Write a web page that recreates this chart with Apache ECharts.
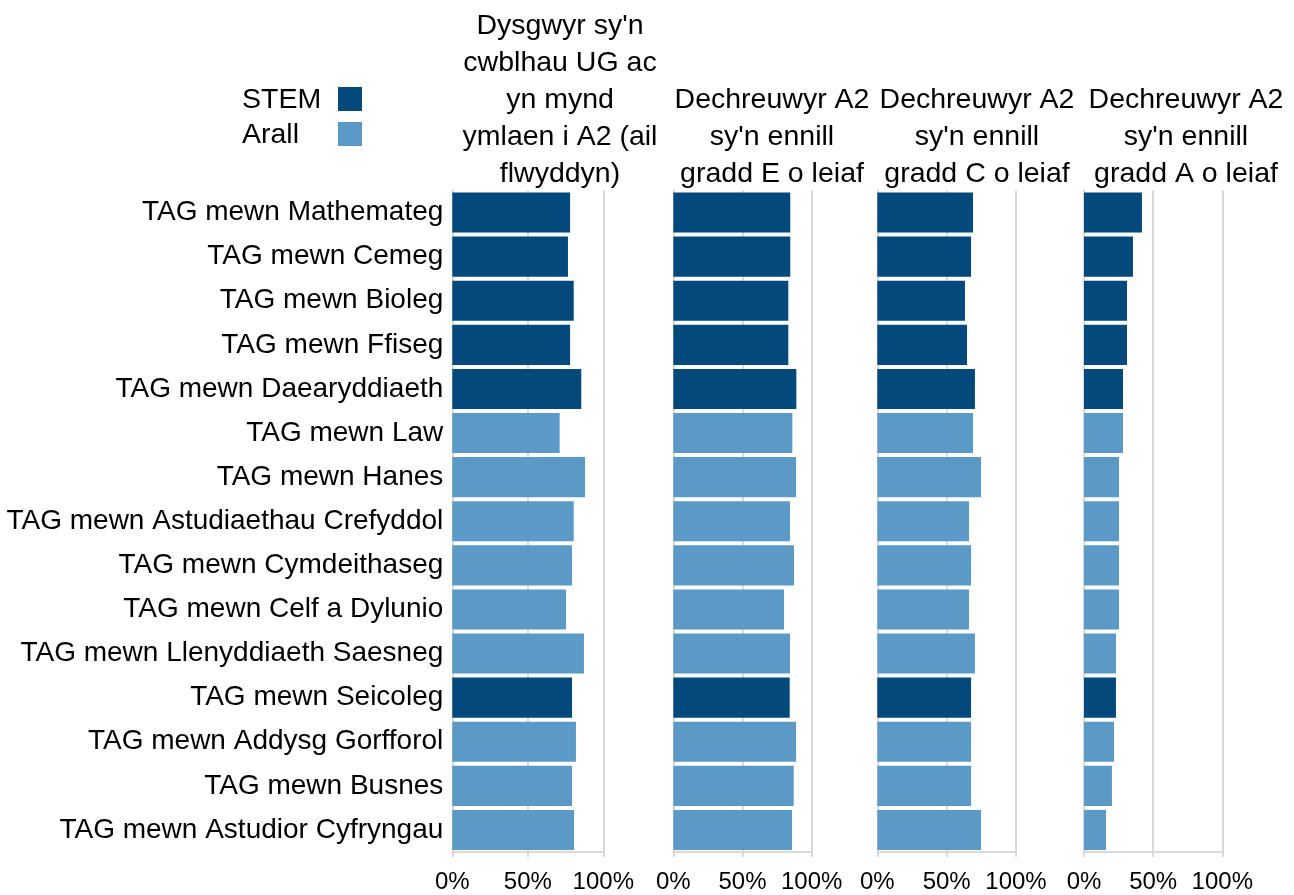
<!DOCTYPE html>
<html>
<head>
<meta charset="utf-8">
<style>
  html, body { margin: 0; padding: 0; background: #fff; }
  #chart { width: 1294px; height: 895px; }
</style>
<script src="https://cdn.jsdelivr.net/npm/echarts@6/dist/echarts.min.js"></script>
</head>
<body>
<div id="chart"></div>
<script>
const categories = [
  "TAG mewn Mathemateg",
  "TAG mewn Cemeg",
  "TAG mewn Bioleg",
  "TAG mewn Ffiseg",
  "TAG mewn Daearyddiaeth",
  "TAG mewn Law",
  "TAG mewn Hanes",
  "TAG mewn Astudiaethau Crefyddol",
  "TAG mewn Cymdeithaseg",
  "TAG mewn Celf a Dylunio",
  "TAG mewn Llenyddiaeth Saesneg",
  "TAG mewn Seicoleg",
  "TAG mewn Addysg Gorfforol",
  "TAG mewn Busnes",
  "TAG mewn Astudior Cyfryngau",
];

// 1 = STEM, 0 = Arall
const isStem = [1, 1, 1, 1, 1, 0, 0, 0, 0, 0, 0, 1, 0, 0, 0];

// percentages
const ugToA2 = [78, 76.6, 80.4, 78, 85.4, 71.1, 87.9, 80.4, 79.3, 75.3, 87.2, 79.3, 81.9, 79.3, 80.6];
const gradeE = [84.5, 84.5, 83.1, 83.1, 88.9, 86, 88.7, 84.3, 87.2, 80, 84.3, 84.1, 88.7, 87, 85.8];
const gradeC = [69, 67.6, 63.2, 64.7, 70.4, 69, 74.8, 66.1, 67.6, 66.1, 70.4, 67.6, 67.6, 67.6, 74.8];
const gradeA = [41.9, 35.4, 31.1, 31.1, 28.2, 28.2, 25.3, 25.3, 25.3, 25.3, 23.1, 23.1, 21.7, 20.2, 15.9];

const panelTitles = [
  "Dysgwyr sy'n\ncwblhau UG ac\nyn mynd\nymlaen i A2 (ail\nflwyddyn)",
  "Dechreuwyr A2\nsy'n ennill\ngradd E o leiaf",
  "Dechreuwyr A2\nsy'n ennill\ngradd C o leiaf",
  "Dechreuwyr A2\nsy'n ennill\ngradd A o leiaf",
];

const xTicks = [0, 50, 100];

const panels = [ugToA2, gradeE, gradeC, gradeA];

const FONT = "'Liberation Sans', Arial, sans-serif";
const STEM_COLOR = "#03497b";
const OTHER_COLOR = "#5b9ac6";
const GRID_COLOR = "#d9d9d9";

const panelBoxes = [
  { left: 452.3, width: 151, titleX: 560 },
  { left: 673.3, width: 138.4, titleX: 772 },
  { left: 877.3, width: 138.7, titleX: 977 },
  { left: 1084, width: 138.3, titleX: 1186 },
];
const plotTop = 190.5;
const plotHeight = 661.5;
const lineH = 37;

const grid = panelBoxes.map((p) => ({
  left: p.left,
  width: p.width,
  top: plotTop,
  height: plotHeight,
  containLabel: false,
}));

const title = panelTitles.map((t, i) => ({
  text: t,
  left: panelBoxes[i].titleX,
  top: plotTop - t.split("\n").length * lineH + 2,
  textAlign: "center",
  padding: 0,
  textStyle: {
    fontFamily: FONT,
    fontSize: 28.5,
    fontWeight: "normal",
    color: "#000",
    lineHeight: lineH,
  },
}));

const xAxis = panels.map((_, i) => ({
  type: "value",
  gridIndex: i,
  min: xTicks[0],
  max: xTicks[xTicks.length - 1],
  interval: xTicks[1] - xTicks[0],
  axisLine: { show: true, lineStyle: { color: GRID_COLOR, width: 2 } },
  axisTick: { show: true, length: 5, lineStyle: { color: GRID_COLOR, width: 2 } },
  axisLabel: {
    formatter: "{value}%",
    fontFamily: FONT,
    fontSize: 24,
    color: "#000",
    margin: 18,
  },
  splitLine: { show: true, lineStyle: { color: GRID_COLOR, width: 2 } },
}));

const yAxis = panels.map((_, i) => ({
  type: "category",
  gridIndex: i,
  data: categories,
  inverse: true,
  axisLine: { show: true, lineStyle: { color: GRID_COLOR, width: 2 } },
  axisTick: { show: false },
  axisLabel: {
    show: i === 0,
    fontFamily: FONT,
    fontSize: 28,
    color: "#000",
    margin: 9,
  },
}));

const series = [];
panels.forEach((vals, i) => {
  series.push({
    name: "STEM",
    type: "bar",
    xAxisIndex: i,
    yAxisIndex: i,
    stack: "p" + i,
    barCategoryGap: "9%",
    itemStyle: { color: STEM_COLOR },
    data: vals.map((v, k) => (isStem[k] ? v : "-")),
  });
  series.push({
    name: "Arall",
    type: "bar",
    xAxisIndex: i,
    yAxisIndex: i,
    stack: "p" + i,
    barCategoryGap: "9%",
    itemStyle: { color: OTHER_COLOR },
    data: vals.map((v, k) => (isStem[k] ? "-" : v)),
  });
});

// legend drawn by hand: text left-aligned, swatches aligned on the right
const legendItems = [
  { name: "STEM", color: STEM_COLOR, y: 87 },
  { name: "Arall", color: OTHER_COLOR, y: 122 },
];
const graphic = [];
legendItems.forEach((it) => {
  graphic.push({
    type: "text",
    left: 242,
    top: it.y + 12 - 13,
    style: { text: it.name, font: "28.5px " + FONT, fill: "#000" },
  });
  graphic.push({
    type: "rect",
    shape: { x: 338, y: it.y, width: 24, height: 24 },
    style: { fill: it.color },
  });
});

const chart = echarts.init(document.getElementById("chart"));
chart.setOption({
  animation: false,
  backgroundColor: "#fff",
  title,
  grid,
  xAxis,
  yAxis,
  series,
  graphic,
});
</script>
</body>
</html>
